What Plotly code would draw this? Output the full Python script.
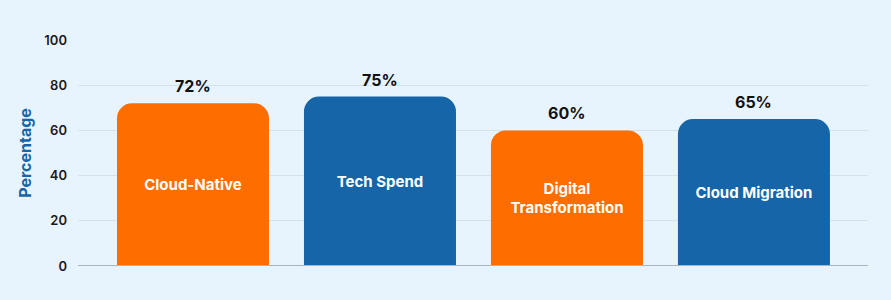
import plotly.graph_objects as go

categories = ["Cloud-Native", "Tech Spend", "Digital Transformation", "Cloud Migration"]
inner_labels = ["Cloud-Native", "Tech Spend", "Digital<br>Transformation", "Cloud Migration"]
values = [72, 75, 60, 65]
value_labels = ["72%", "75%", "60%", "65%"]
colors = ["#fd6d00", "#1565a8", "#fd6d00", "#1565a8"]
y_ticks = [0, 20, 40, 60, 80, 100]

BG = "#e8f4fd"
FONT = "Inter"

fig = go.Figure()
fig.add_trace(go.Bar(
    x=categories,
    y=values,
    width=0.813,
    marker=dict(color=colors, cornerradius=15, line=dict(width=0)),
    text=inner_labels,
    textposition="inside",
    insidetextanchor="middle",
    textangle=0,
    textfont=dict(family=FONT, size=15, color="white", weight="bold"),
    hoverinfo="skip",
))

for c, v, lab in zip(categories, values, value_labels):
    fig.add_annotation(
        x=c, y=v, text=lab, showarrow=False,
        yanchor="bottom", yshift=5,
        font=dict(family=FONT, size=16, color="#111111", weight="bold"),
    )

fig.update_layout(
    width=891, height=300,
    margin=dict(l=78, r=23, t=40, b=34),
    paper_bgcolor=BG, plot_bgcolor=BG,
    showlegend=False,
    bargap=0.19,
    xaxis=dict(
        range=[-0.615, 3.61],
        showticklabels=False,
        showgrid=False,
        zeroline=False,
        showline=False,
        ticks="",
    ),
    yaxis=dict(
        range=[0, 100],
        tickvals=y_ticks,
        showgrid=True,
        gridcolor="#d3e3ee",
        gridwidth=1,
        zeroline=False,
        showline=False,
        ticks="",
        ticklabelstandoff=10,
        tickfont=dict(family=FONT, size=13, color="#1a1a1a", weight=600),
        title=dict(text="Percentage", standoff=8,
                   font=dict(family=FONT, size=16, color="#1565a8", weight="bold")),
    ),
)

fig.add_shape(type="line", xref="paper", yref="y", x0=0, x1=1, y0=0, y1=0,
              line=dict(color="#a9b4bc", width=2), layer="above")

fig.write_html("out.html")
